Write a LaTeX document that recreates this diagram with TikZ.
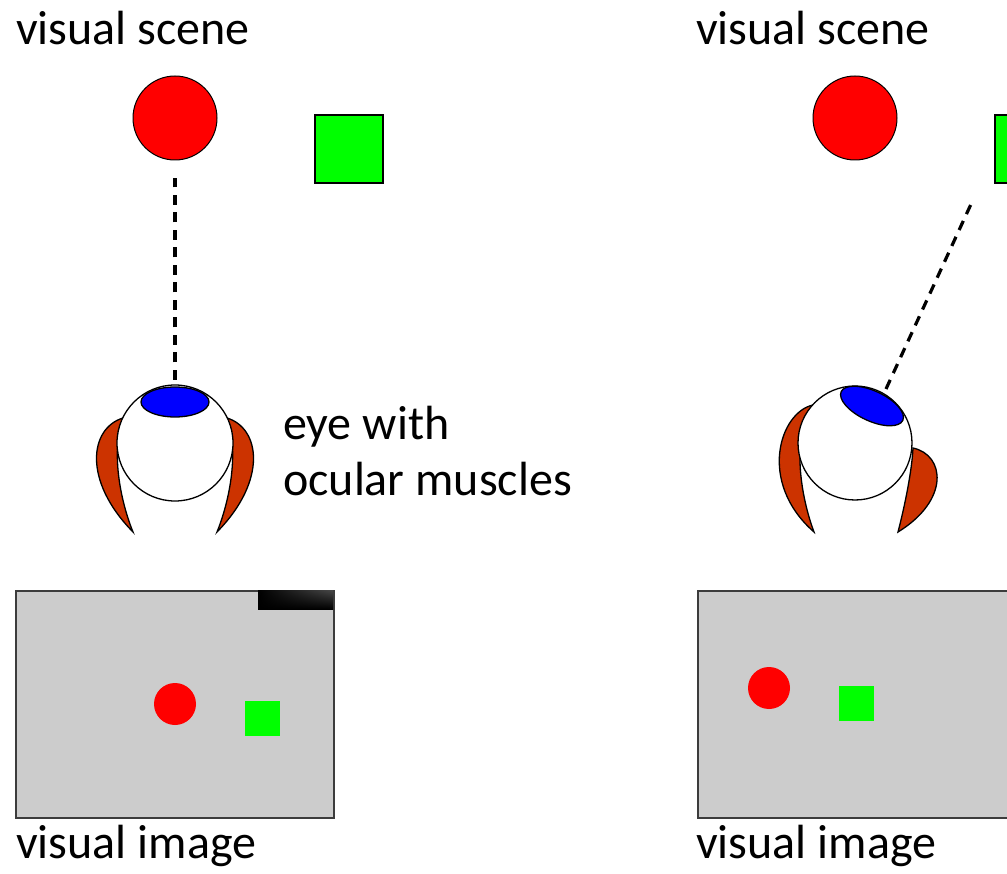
\documentclass[tikz,border=0pt]{standalone}
\usepackage{fontspec}
\setmainfont{Carlito}
\usetikzlibrary{shadings}
\begin{document}
\definecolor{muscle}{HTML}{CC3300}
\definecolor{imgbg}{HTML}{CCCCCC}
\definecolor{frame}{HTML}{3C3C3C}
\begin{tikzpicture}[x=1pt, y=-1pt,
  lbl/.style={font=\fontsize{48}{58}\selectfont, inner sep=0pt, anchor=base west},
  ball/.style={circle, draw=black, line width=1pt, fill=red, inner sep=0pt, minimum size=84pt},
  cube/.style={rectangle, draw=black, line width=1.2pt, fill=green, inner sep=0pt, minimum size=68pt},
  sight/.style={line width=3.2pt, dash pattern=on 10pt off 7.5pt},
  musc/.style={draw=black, line width=1.3pt, fill=muscle},
  bulb/.style={draw=black, line width=1.3pt, fill=white},
  pupil/.style={draw=black, line width=1.3pt, fill=blue},
  screen/.style={rectangle, draw=frame, line width=2pt, fill=imgbg, inner sep=0pt, anchor=north west},
  dot/.style={circle, fill=red, inner sep=0pt, minimum size=42pt},
  blk/.style={rectangle, fill=green, inner sep=0pt, minimum size=35pt}]
\useasboundingbox (0,0) rectangle (1007,874);
\clip (0,0) rectangle (1007,874);

% ---------- left panel: looking at the ball ----------
\node[lbl] (sceneA) at (16,45) {visual scene};
\node[ball] (ballA) at (175,118) {};
\node[cube] (cubeA) at (349,149) {};

% eye muscles
\path[musc] (123,418) .. controls (90,428) and (82,480) .. (133,532)
             .. controls (122,505) and (110,455) .. cycle;
\path[musc] (227,418) .. controls (260,428) and (268,480) .. (217,532)
             .. controls (228,505) and (240,455) .. cycle;
% eyeball and pupil
\node[bulb, circle, inner sep=0pt, minimum size=116pt] (eyeA) at (175,443) {};
\draw[pupil] (175,402) ellipse [x radius=34, y radius=15];
\coordinate (pupA) at (175,380);
\coordinate (gazeA) at (175,178);
\draw[sight] (pupA) -- (gazeA);

\node[lbl] (eyetxt1) at (283,439) {eye with};
\node[lbl] (eyetxt2) at (283,495) {ocular muscles};

% image on the retina
\node[screen, minimum width=318pt, minimum height=227pt] (imgA) at (15,590) {};
\shade[upper left=black, lower left=black, lower right=black, upper right=black!72]
  (258,590) rectangle (333,609);
\node[dot] (dotA) at (175,704) {};
\node[blk] (blkA) at (262.5,718.5) {};
\node[lbl] (imgtxtA) at (16,858) {visual image};

% ---------- right panel: looking at the cube ----------
\node[lbl] (sceneB) at (696,45) {visual scene};
\node[ball] (ballB) at (855,118) {};
\node[cube] (cubeB) at (1029,149) {};

% eye muscles (left stretched, right contracted)
\path[musc] (813,405) .. controls (780,412) and (757,482) .. (814,532)
             .. controls (802,500) and (790,440) .. cycle;
\path[musc] (913,448) .. controls (945,455) and (950,500) .. (898,532)
             .. controls (905,505) and (912,470) .. cycle;
% eyeball and rotated pupil
\node[bulb, circle, inner sep=0pt, minimum size=114pt] (eyeB) at (855,443) {};
\draw[pupil, rotate around={-25:(872,406)}] (872,406) ellipse [x radius=34, y radius=15];
\coordinate (pupB) at (886,389);
\coordinate (gazeB) at (972,202);
\draw[sight] (pupB) -- (gazeB);

% image on the retina
\node[screen, minimum width=318pt, minimum height=227pt] (imgB) at (697,590) {};
\node[dot] (dotB) at (769,688) {};
\node[blk] (blkB) at (856.5,703.5) {};
\node[lbl] (imgtxtB) at (696,858) {visual image};
\end{tikzpicture}
\end{document}
